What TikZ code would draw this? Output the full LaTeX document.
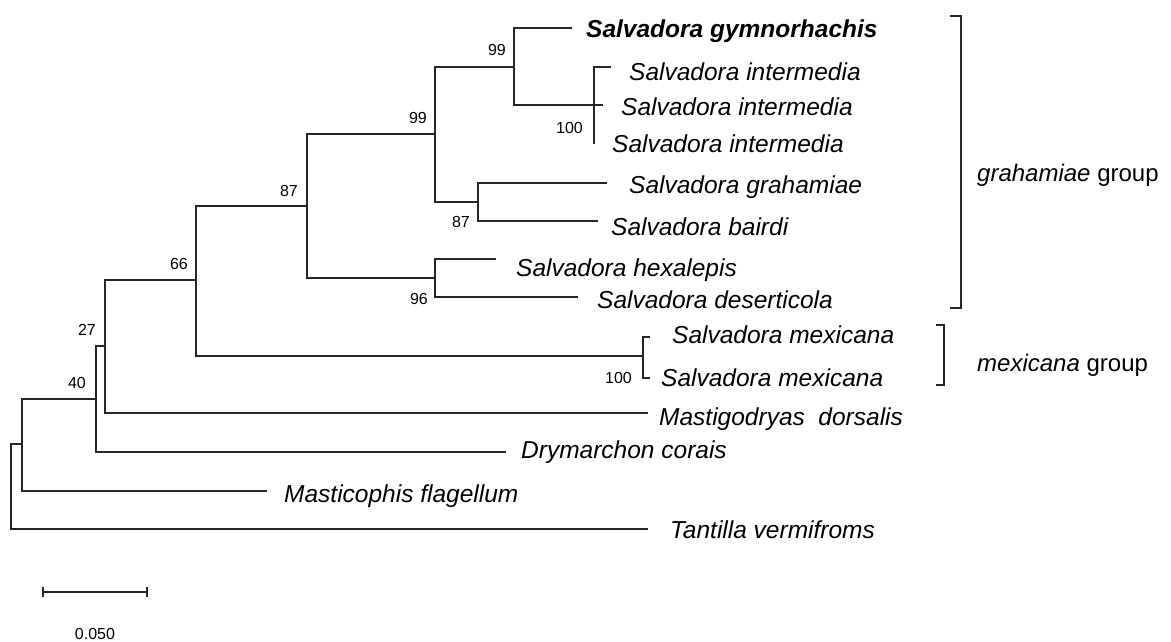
\documentclass[tikz,border=0pt]{standalone}
\usepackage{fontspec}
\setmainfont{Liberation Sans}
\begin{document}
\begin{tikzpicture}[x=1pt,y=-1pt,
  branch/.style={line width=1.2pt,black!85},
  taxon/.style={anchor=base west,inner sep=0pt,font=\fontsize{24.5}{26}\selectfont\itshape},
  boot/.style={anchor=base east,inner sep=0pt,font=\fontsize{16}{18}\selectfont},
  grouplbl/.style={anchor=base west,inner sep=0pt,font=\fontsize{24}{26}\selectfont}]
\useasboundingbox (0,0) rectangle (1171,641);
% internal nodes
\coordinate (r) at (11,486);
\coordinate (n22) at (22,444);
\coordinate (n40) at (96,399);
\coordinate (n27) at (105,346);
\coordinate (n66) at (196,280);
\coordinate (nMex) at (643,356);
\coordinate (n87) at (307,206);
\coordinate (n96) at (435,278);
\coordinate (n99b) at (435,134);
\coordinate (n87b) at (478,202);
\coordinate (n99a) at (514,67);
\coordinate (nInt) at (594,105);
% tips
\coordinate (tGym) at (572,28);
\coordinate (tInt1) at (611,67);
\coordinate (tInt2) at (603,105);
\coordinate (tInt3) at (594,144);
\coordinate (tGra) at (607,183);
\coordinate (tBai) at (598,221);
\coordinate (tHex) at (496,259);
\coordinate (tDes) at (578,297);
\coordinate (tMex1) at (650,337);
\coordinate (tMex2) at (650,378);
\coordinate (tMas) at (648,413);
\coordinate (tDry) at (506,452);
\coordinate (tMcp) at (267,491);
\coordinate (tTan) at (648,529);
% branches
\draw[branch] (r) |- (n22);
\draw[branch] (r) |- (tTan);
\draw[branch] (n22) |- (n40);
\draw[branch] (n22) |- (tMcp);
\draw[branch] (n40) |- (n27);
\draw[branch] (n40) |- (tDry);
\draw[branch] (n27) |- (n66);
\draw[branch] (n27) |- (tMas);
\draw[branch] (n66) |- (n87);
\draw[branch] (n66) |- (nMex);
\draw[branch] (nMex) |- (tMex1);
\draw[branch] (nMex) |- (tMex2);
\draw[branch] (n87) |- (n99b);
\draw[branch] (n87) |- (n96);
\draw[branch] (n96) |- (tHex);
\draw[branch] (n96) |- (tDes);
\draw[branch] (n99b) |- (n99a);
\draw[branch] (n99b) |- (n87b);
\draw[branch] (n87b) |- (tGra);
\draw[branch] (n87b) |- (tBai);
\draw[branch] (n99a) |- (tGym);
\draw[branch] (n99a) |- (nInt);
\draw[branch] (nInt) |- (tInt1);
\draw[branch] (nInt) -- (tInt2);
\draw[branch] (nInt) -- (tInt3);
% taxon labels
\node[taxon,font=\fontsize{24.5}{26}\selectfont\bfseries\itshape] (lGym) at (586,37) {Salvadora gymnorhachis};
\node[taxon] (lInt1) at (629,80) {Salvadora intermedia};
\node[taxon] (lInt2) at (621,115) {Salvadora intermedia};
\node[taxon] (lInt3) at (612,152) {Salvadora intermedia};
\node[taxon] (lGra) at (629,193) {Salvadora grahamiae};
\node[taxon] (lBai) at (611,235) {Salvadora bairdi};
\node[taxon] (lHex) at (516,276) {Salvadora hexalepis};
\node[taxon] (lDes) at (597,308) {Salvadora deserticola};
\node[taxon] (lMex1) at (672,343) {Salvadora mexicana};
\node[taxon] (lMex2) at (661,386) {Salvadora mexicana};
\node[taxon] (lMas) at (659,425) {Mastigodryas\ \ dorsalis};
\node[taxon] (lDry) at (521,458) {Drymarchon corais};
\node[taxon] (lMcp) at (284,502) {Masticophis flagellum};
\node[taxon] (lTan) at (670,538) {Tantilla vermifroms};
% bootstrap values
\node[boot] (b99a) at (506,55) {99};
\node[boot] (b99b) at (427,123) {99};
\node[boot] (b87) at (298,196) {87};
\node[boot] (b87b) at (470,227) {87};
\node[boot] (b96) at (428,304) {96};
\node[boot] (b100a) at (583,133) {100};
\node[boot] (b100b) at (632,383) {100};
\node[boot] (b66) at (188,269) {66};
\node[boot] (b27) at (96,335) {27};
\node[boot] (b40) at (86,388) {40};
% group brackets
\coordinate (gA1) at (950,16);
\coordinate (gA2) at (961,16);
\coordinate (gA3) at (961,308);
\coordinate (gA4) at (950,308);
\draw[branch] (gA1) -- (gA2) -- (gA3) -- (gA4);
\coordinate (gB1) at (936,325);
\coordinate (gB2) at (944,325);
\coordinate (gB3) at (944,385);
\coordinate (gB4) at (936,385);
\draw[branch] (gB1) -- (gB2) -- (gB3) -- (gB4);
\node[grouplbl] (lgA) at (977,181) {\itshape grahamiae\upshape\ group};
\node[grouplbl] (lgB) at (977,371) {\itshape mexicana\upshape\ group};
% scale bar
\coordinate (sb1) at (43,592);
\coordinate (sb2) at (147,592);
\draw[branch] (sb1) -- (sb2);
\draw[branch] ([yshift=-5pt]sb1) -- ([yshift=5pt]sb1);
\draw[branch] ([yshift=-5pt]sb2) -- ([yshift=5pt]sb2);
\node[anchor=base,inner sep=0pt,font=\fontsize{16}{18}\selectfont] (sbl) at (95,639) {0.050};
\end{tikzpicture}
\end{document}
